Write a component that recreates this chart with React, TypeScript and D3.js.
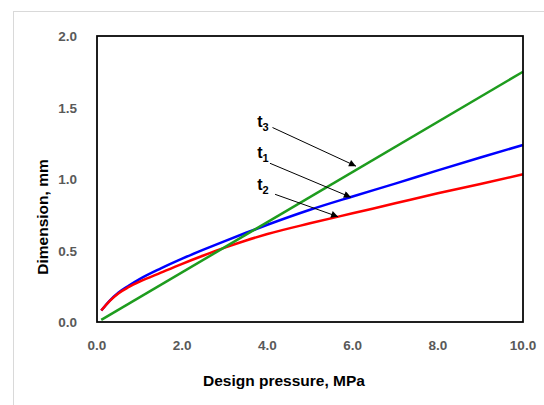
import React, { useEffect, useRef } from 'react';
import * as d3 from 'd3';

// Design pressure (MPa)
const pressure = [0.1, 0.3, 0.5, 0.75, 1, 1.5, 2, 2.5, 3, 3.5, 4, 5, 6, 7, 8, 9, 10];
// t1 (blue)
const t1Values = [0.08, 0.15, 0.205, 0.255, 0.3, 0.375, 0.443, 0.506, 0.566, 0.624, 0.68, 0.785, 0.878, 0.968, 1.06, 1.15, 1.238];
// t2 (red)
const t2Values = [0.08, 0.148, 0.2, 0.245, 0.282, 0.345, 0.407, 0.465, 0.52, 0.57, 0.615, 0.69, 0.76, 0.83, 0.9, 0.965, 1.033];
// t3 (green), straight line
const t3Pressure = [0.1, 10];
const t3Values = [0.015, 1.75];

const xTicks = [0, 2, 4, 6, 8, 10];
const yTicks = [0, 0.5, 1, 1.5, 2];

// annotation arrows: label position, arrow start, arrow tip (data units)
const labels = [
  { sub: '3', tx: 3.76, ty: 1.364, from: [4.12, 1.36], to: [6.08, 1.09] },
  { sub: '1', tx: 3.76, ty: 1.147, from: [4.06, 1.11], to: [5.96, 0.872] },
  { sub: '2', tx: 3.76, ty: 0.923, from: [4.18, 0.893], to: [5.66, 0.736] },
];

const App = () => {
  const ref = useRef<SVGSVGElement | null>(null);

  useEffect(() => {
    if (!ref.current) return;
    const svg = d3.select(ref.current);
    svg.selectAll('*').remove();

    const left = 97, right = 523, top = 36, bottom = 322;
    const x = d3.scaleLinear().domain([0, 10]).range([left, right]);
    const y = d3.scaleLinear().domain([0, 2]).range([bottom, top]);
    const font = '"Liberation Sans", Arial, sans-serif';

    // outer chart border
    svg.append('rect')
      .attr('x', 13.5).attr('y', 11.5)
      .attr('width', 540).attr('height', 400)
      .attr('fill', '#fff')
      .attr('stroke', '#d9d9d9');

    svg.append('defs').append('marker')
      .attr('id', 'arrow')
      .attr('viewBox', '0 0 10 10')
      .attr('refX', 10).attr('refY', 5)
      .attr('markerWidth', 9).attr('markerHeight', 7)
      .attr('markerUnits', 'userSpaceOnUse')
      .attr('orient', 'auto')
      .append('path')
      .attr('d', 'M0,0 L10,5 L0,10 Z')
      .attr('fill', '#000');

    // tick labels
    svg.append('g').selectAll('text')
      .data(yTicks)
      .enter().append('text')
      .attr('x', 77).attr('y', d => y(d) + 5)
      .attr('text-anchor', 'end')
      .attr('font-family', font).attr('font-weight', 'bold')
      .attr('font-size', 13.5).attr('fill', '#595959')
      .text(d => d.toFixed(1));

    svg.append('g').selectAll('text')
      .data(xTicks)
      .enter().append('text')
      .attr('x', d => x(d)).attr('y', 350)
      .attr('text-anchor', 'middle')
      .attr('font-family', font).attr('font-weight', 'bold')
      .attr('font-size', 13.5).attr('fill', '#595959')
      .text(d => d.toFixed(1));

    // axis titles
    svg.append('text')
      .attr('x', 284).attr('y', 386)
      .attr('text-anchor', 'middle')
      .attr('font-family', font).attr('font-weight', 'bold')
      .attr('font-size', 15.5).attr('fill', '#000')
      .text('Design pressure, MPa');

    svg.append('text')
      .attr('transform', 'translate(48,217) rotate(-90)')
      .attr('text-anchor', 'middle')
      .attr('font-family', font).attr('font-weight', 'bold')
      .attr('font-size', 15.5).attr('fill', '#000')
      .text('Dimension, mm');

    const line = d3.line<[number, number]>()
      .x(d => x(d[0]))
      .y(d => y(d[1]))
      .curve(d3.curveMonotoneX);

    const series = [
      { xs: pressure, ys: t1Values, color: '#0000ff' },
      { xs: pressure, ys: t2Values, color: '#ff0000' },
      { xs: t3Pressure, ys: t3Values, color: '#1e9c1e' },
    ];
    series.forEach(s => {
      svg.append('path')
        .datum(s.xs.map((p, i) => [p, s.ys[i]] as [number, number]))
        .attr('d', line)
        .attr('fill', 'none')
        .attr('stroke', s.color)
        .attr('stroke-width', 2.5);
    });

    // plot frame
    svg.append('rect')
      .attr('x', left).attr('y', top)
      .attr('width', right - left).attr('height', bottom - top)
      .attr('fill', 'none')
      .attr('stroke', '#000')
      .attr('stroke-width', 1.75);

    // annotations
    labels.forEach(l => {
      svg.append('line')
        .attr('x1', x(l.from[0])).attr('y1', y(l.from[1]))
        .attr('x2', x(l.to[0])).attr('y2', y(l.to[1]))
        .attr('stroke', '#000').attr('stroke-width', 1)
        .attr('marker-end', 'url(#arrow)');
      const t = svg.append('text')
        .attr('x', x(l.tx)).attr('y', y(l.ty))
        .attr('font-family', font).attr('font-weight', 'bold')
        .attr('font-size', 16).attr('fill', '#000');
      t.append('tspan').text('t');
      t.append('tspan').attr('font-size', 11).attr('dy', 4).text(l.sub);
    });
  }, []);

  return (
    <svg
      ref={ref}
      width={544}
      height={405}
      style={{ position: 'absolute', left: 0, top: 0, display: 'block' }}
    />
  );
};

export default App;
